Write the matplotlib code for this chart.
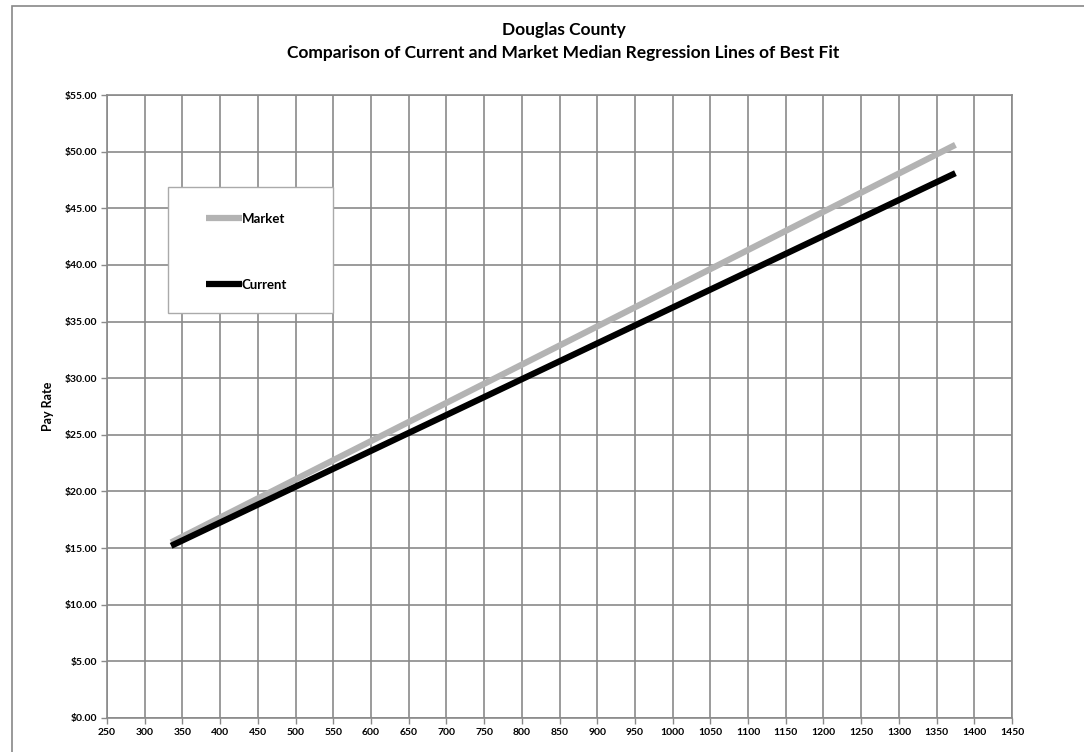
import matplotlib
matplotlib.use("Agg")
import matplotlib.pyplot as plt
from matplotlib.patches import Rectangle

plt.rcParams['font.family'] = ['Lato', 'DejaVu Sans']

# Data: regression line endpoints (x = points, y = pay rate)
x_vals = [335, 1375]
market = [15.5, 50.6]
current = [15.2, 48.1]
x_ticks = list(range(250, 1451, 50))
y_ticks = list(range(0, 56, 5))

fig = plt.figure(figsize=(10.84, 7.52), dpi=100)
fig.patches.append(Rectangle((12/1084, -0.2), 1.5, 1 - 6/752 + 0.2, transform=fig.transFigure,
                             fill=False, edgecolor='#888888', linewidth=1.2))
ax = fig.add_axes([107/1084, 1 - 718/752, (1012-107)/1084, (718-95)/752])

ax.plot(x_vals, market, color='#b3b3b3', linewidth=4.5, solid_capstyle='butt', label='Market', zorder=3)
ax.plot(x_vals, current, color='#000000', linewidth=4.5, solid_capstyle='butt', label='Current', zorder=4)

ax.set_xlim(250, 1450)
ax.set_ylim(0, 55)
ax.set_xticks(x_ticks)
ax.set_yticks(y_ticks)
ax.set_xticklabels([str(v) for v in x_ticks], fontsize=7.5, fontweight='bold')
ax.set_yticklabels([f"${v:.2f}" for v in y_ticks], fontsize=7.5, fontweight='bold')
ax.grid(True, color='#8a8a8a', linewidth=1.2)
ax.set_axisbelow(True)
for s in ax.spines.values():
    s.set_color('#8a8a8a')
    s.set_linewidth(1.2)
ax.tick_params(axis='both', direction='out', length=4, color='#8a8a8a', width=1.0, pad=3)
ax.set_ylabel('Pay Rate', fontsize=9, fontweight='bold', labelpad=8)

fig.text(0.52, 1 - 30/752, 'Douglas County', ha='center', va='center', fontsize=12.5, fontweight='bold')
fig.text(0.52, 1 - 53/752, 'Comparison of Current and Market Median Regression Lines of Best Fit',
         ha='center', va='center', fontsize=12.5, fontweight='bold')

# Legend frame box
ax.add_patch(Rectangle(((168-107)/905, (718-313)/623), (333-168)/905, (313-187)/623,
                       transform=ax.transAxes, facecolor='white', edgecolor='#aaaaaa',
                       linewidth=1.0, zorder=5))
leg = ax.legend(loc='upper left', bbox_to_anchor=((206-107)/905, (718-213)/623), frameon=False,
                fontsize=9.5, handlelength=2.7, handletextpad=0.0, labelspacing=4.1,
                borderpad=0, borderaxespad=0)
leg.set_zorder(6)
for t in leg.get_texts():
    t.set_fontweight('bold')

fig.savefig('out.png', dpi=100)
